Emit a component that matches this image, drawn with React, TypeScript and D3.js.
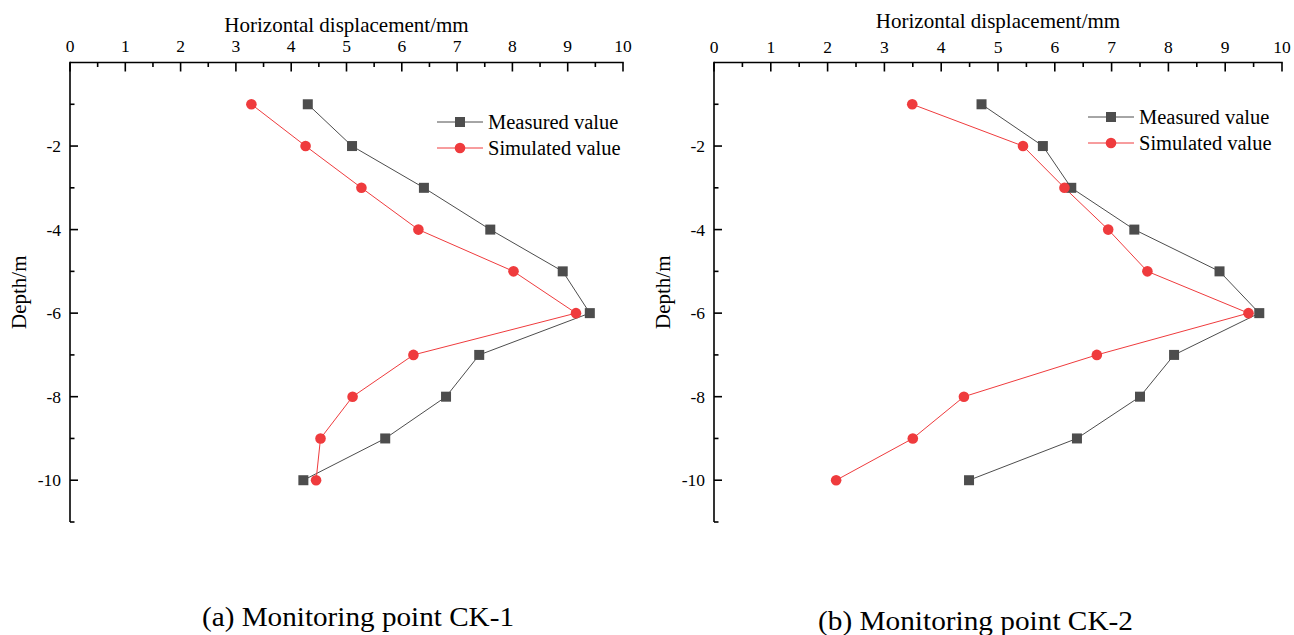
import React from "react";
import * as d3 from "d3";

const depths = [-1, -2, -3, -4, -5, -6, -7, -8, -9, -10];
const ck1Measured = [4.3, 5.1, 6.4, 7.6, 8.91, 9.4, 7.4, 6.8, 5.7, 4.22];
const ck1Simulated = [3.28, 4.26, 5.27, 6.3, 8.02, 9.15, 6.21, 5.11, 4.53, 4.45];
const ck2Measured = [4.71, 5.79, 6.29, 7.4, 8.9, 9.6, 8.1, 7.5, 6.39, 4.49];
const ck2Simulated = [3.49, 5.44, 6.17, 6.94, 7.63, 9.41, 6.74, 4.4, 3.5, 2.15];

const xTicks = [0, 1, 2, 3, 4, 5, 6, 7, 8, 9, 10];
const yTicks = [-2, -4, -6, -8, -10];
const seriesNames = ["Measured value", "Simulated value"];
const xTitle = "Horizontal displacement/mm";
const yTitle = "Depth/m";
const captions = ["(a) Monitoring point CK-1", "(b) Monitoring point CK-2"];

const FONT = "'Liberation Serif', 'Times New Roman', serif";
const GRAY = "#4d4d4d";
const RED = "#ef3b3d";

type PanelProps = {
  x0: number;
  x1: number;
  measured: number[];
  simulated: number[];
  legendX: number;
  legendY: number;
  titleY: number;
  tickLabelY: number;
  yTitleX: number;
  caption: string;
  captionX: number;
  captionY: number;
  captionW: number;
};

function Panel(p: PanelProps) {
  const yTop = 62.5;
  const yBot = 522;
  const x = d3.scaleLinear().domain([0, 10]).range([p.x0, p.x1]);
  const y = d3.scaleLinear().domain([0, -11]).range([yTop, yBot]);
  const line = d3
    .line<number>()
    .x((d) => x(d))
    .y((_, i) => y(depths[i]));
  const minorX = d3.range(0.5, 10, 1);
  const minorY = [-1, -3, -5, -7, -9, -11];
  const sq = 10;
  return (
    <g>
      <line x1={p.x0} x2={p.x1 + 0.75} y1={yTop} y2={yTop} stroke="#000" strokeWidth={1.6} />
      <line x1={p.x0} x2={p.x0} y1={yTop - 0.75} y2={yBot} stroke="#000" strokeWidth={1.6} />
      {xTicks.map((t) => (
        <g key={"xt" + t}>
          <line x1={x(t)} x2={x(t)} y1={yTop} y2={yTop + 9} stroke="#000" strokeWidth={1.6} />
          <text x={x(t)} y={p.tickLabelY} textAnchor="middle" fontSize={17.5} fontFamily={FONT}>
            {t}
          </text>
        </g>
      ))}
      {minorX.map((t) => (
        <line key={"xm" + t} x1={x(t)} x2={x(t)} y1={yTop} y2={yTop + 4.5} stroke="#000" strokeWidth={1.6} />
      ))}
      {yTicks.map((t) => (
        <g key={"yt" + t}>
          <line x1={p.x0} x2={p.x0 + 8} y1={y(t)} y2={y(t)} stroke="#000" strokeWidth={1.6} />
          <text x={p.x0 - 9} y={y(t) + 6} textAnchor="end" fontSize={17.5} fontFamily={FONT}>
            {t}
          </text>
        </g>
      ))}
      {minorY.map((t) => (
        <line key={"ym" + t} x1={p.x0} x2={p.x0 + 4.5} y1={y(t)} y2={y(t)} stroke="#000" strokeWidth={1.6} />
      ))}
      <text x={(p.x0 + p.x1) / 2} y={p.titleY} textAnchor="middle" fontSize={21} fontFamily={FONT}>
        {xTitle}
      </text>
      <text
        transform={`translate(${p.yTitleX},${(yTop + yBot) / 2}) rotate(-90)`}
        textAnchor="middle"
        fontSize={21}
        fontFamily={FONT}
      >
        {yTitle}
      </text>
      <path d={line(p.measured) || ""} fill="none" stroke={GRAY} strokeWidth={1} />
      <path d={line(p.simulated) || ""} fill="none" stroke={RED} strokeWidth={1} />
      {p.measured.map((v, i) => (
        <rect key={"m" + i} x={x(v) - sq / 2} y={y(depths[i]) - sq / 2} width={sq} height={sq} fill={GRAY} />
      ))}
      {p.simulated.map((v, i) => (
        <circle key={"s" + i} cx={x(v)} cy={y(depths[i])} r={5.3} fill={RED} />
      ))}
      {seriesNames.map((name, i) => {
        const ly = p.legendY + i * 26;
        const col = i === 0 ? GRAY : RED;
        return (
          <g key={name}>
            <line x1={p.legendX} x2={p.legendX + 46} y1={ly} y2={ly} stroke={col} strokeWidth={1} />
            {i === 0 ? (
              <rect x={p.legendX + 23 - sq / 2} y={ly - sq / 2} width={sq} height={sq} fill={col} />
            ) : (
              <circle cx={p.legendX + 23} cy={ly} r={5.3} fill={col} />
            )}
            <text x={p.legendX + 51} y={ly + 7} fontSize={20.5} fontFamily={FONT}>
              {name}
            </text>
          </g>
        );
      })}
      <text
        x={p.captionX}
        y={p.captionY}
        fontSize={27.5}
        fontFamily={FONT}
        textLength={p.captionW}
        lengthAdjust="spacingAndGlyphs"
      >
        {p.caption}
      </text>
    </g>
  );
}

export default function App() {
  return (
    <svg
      width={1294}
      height={635}
      style={{ position: "absolute", left: 0, top: 0, background: "#fff" }}
    >
      <rect width={1294} height={635} fill="#fff" />
      <Panel
        x0={70}
        x1={623}
        measured={ck1Measured}
        simulated={ck1Simulated}
        legendX={437}
        legendY={122}
        titleY={32}
        tickLabelY={52}
        yTitleX={26}
        caption={captions[0]}
        captionX={202}
        captionY={626}
        captionW={312}
      />
      <Panel
        x0={714}
        x1={1282}
        measured={ck2Measured}
        simulated={ck2Simulated}
        legendX={1088}
        legendY={117}
        titleY={28}
        tickLabelY={53}
        yTitleX={670}
        caption={captions[1]}
        captionX={818}
        captionY={630}
        captionW={315}
      />
    </svg>
  );
}
